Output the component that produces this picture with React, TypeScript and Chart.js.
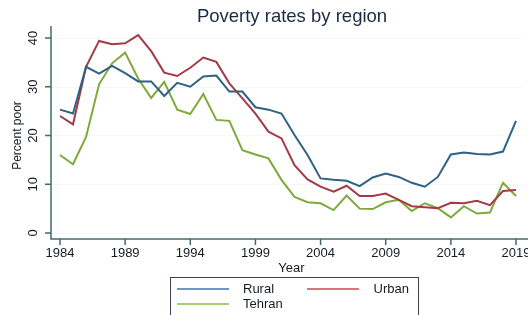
import React, { useEffect, useRef } from "react";
import { Chart, registerables } from "chart.js";

Chart.register(...registerables);

const years = [1984,1985,1986,1987,1988,1989,1990,1991,1992,1993,1994,1995,1996,1997,1998,1999,2000,2001,2002,2003,2004,2005,2006,2007,2008,2009,2010,2011,2012,2013,2014,2015,2016,2017,2018,2019];
const rural = [25.3,24.5,34.1,32.7,34.3,32.8,31.1,31.1,28.1,30.8,30.0,32.1,32.3,29.0,29.0,25.8,25.3,24.5,20.1,16.0,11.2,10.9,10.7,9.6,11.4,12.2,11.5,10.3,9.5,11.5,16.1,16.5,16.2,16.1,16.7,23.0];
const urban = [24.0,22.3,34.1,39.4,38.7,38.9,40.6,37.3,32.9,32.2,33.9,36.0,35.1,30.7,27.6,24.5,20.8,19.4,13.9,11.0,9.5,8.5,9.7,7.6,7.6,8.1,6.8,5.5,5.3,5.1,6.2,6.1,6.6,5.7,8.6,8.8];
const tehran = [16.0,14.1,19.7,30.5,34.8,37.0,31.7,27.7,31.0,25.3,24.4,28.5,23.2,23.0,17.0,16.1,15.3,10.9,7.4,6.3,6.1,4.7,7.7,5.0,4.9,6.3,6.8,4.5,6.1,5.1,3.2,5.5,4.0,4.2,10.3,7.6];
const seriesNames = ["Rural", "Urban", "Tehran"];
const seriesColors = ["#2f6182", "#a23a47", "#7fa93c"];
const legendColors = ["#3f72b0", "#cc4452", "#86bf44"];
const xTicks = [1984,1989,1994,1999,2004,2009,2014,2019];
const yTicks = [0,10,20,30,40];
const title = "Poverty rates by region";
const xTitle = "Year";
const yTitle = "Percent poor";

export default function App() {
  const ref = useRef<HTMLCanvasElement | null>(null);
  useEffect(() => {
    if (!ref.current) return;
    const axisColor = "#3e6c6c";
    const textColor = "#161b24";
    const font = "Liberation Sans, Arial, sans-serif";
    const decor = {
      id: "decor",
      beforeDatasetsDraw(chart: any) {
        const { ctx, chartArea: a, scales } = chart;
        ctx.save();
        ctx.strokeStyle = "rgba(238,241,244,0.6)";
        ctx.lineWidth = 1;
        for (const v of yTicks) {
          const y = Math.round(scales.y.getPixelForValue(v)) + 0.5;
          ctx.beginPath(); ctx.moveTo(a.left, y); ctx.lineTo(a.right, y); ctx.stroke();
        }
        ctx.restore();
      },
      afterDraw(chart: any) {
        const { ctx, chartArea: a, scales } = chart;
        ctx.save();
        ctx.strokeStyle = axisColor;
        ctx.lineWidth = 1.5;
        ctx.beginPath();
        ctx.moveTo(a.left, a.top - 4);
        ctx.lineTo(a.left, a.bottom);
        ctx.lineTo(a.right + 6, a.bottom);
        ctx.stroke();
        ctx.fillStyle = textColor;
        ctx.font = `13px ${font}`;
        for (const v of yTicks) {
          const y = scales.y.getPixelForValue(v);
          ctx.beginPath(); ctx.moveTo(a.left - 6, y); ctx.lineTo(a.left, y); ctx.stroke();
          ctx.save();
          ctx.translate(a.left - 11, y);
          ctx.rotate(-Math.PI / 2);
          ctx.textAlign = "center";
          ctx.textBaseline = "bottom";
          ctx.fillText(String(v), 0, 0);
          ctx.restore();
        }
        for (const v of xTicks) {
          const x = scales.x.getPixelForValue(v);
          ctx.beginPath(); ctx.moveTo(x, a.bottom); ctx.lineTo(x, a.bottom + 6); ctx.stroke();
          ctx.textAlign = "center";
          ctx.textBaseline = "top";
          ctx.fillText(String(v), x, a.bottom + 8);
        }
        ctx.font = `13px ${font}`;
        ctx.textAlign = "center";
        ctx.textBaseline = "middle";
        ctx.fillText(xTitle, (a.left + a.right) / 2 + 5, a.bottom + 29);
        ctx.save();
        ctx.translate(18, scales.y.getPixelForValue(20));
        ctx.rotate(-Math.PI / 2);
        ctx.font = `12px ${font}`;
        ctx.fillText(yTitle, 0, 0);
        ctx.restore();
        ctx.font = `18.5px ${font}`;
        ctx.fillStyle = "#1c2a42";
        ctx.fillText(title, 292, 17);
        ctx.strokeStyle = "#3a4450";
        ctx.lineWidth = 1;
        ctx.strokeRect(170.5, 277.5, 248, 45);
        ctx.font = `13px ${font}`;
        ctx.fillStyle = textColor;
        ctx.textBaseline = "middle";
        const items = [
          { x: 177, y: 289, tx: 243, align: "left" },
          { x: 307, y: 289, tx: 409, align: "right" },
          { x: 177, y: 304, tx: 243, align: "left" },
        ];
        items.forEach((it, i) => {
          ctx.strokeStyle = legendColors[i];
          ctx.lineWidth = 1.5;
          ctx.beginPath(); ctx.moveTo(it.x, it.y); ctx.lineTo(it.x + 52, it.y); ctx.stroke();
          ctx.textAlign = it.align;
          ctx.fillText(seriesNames[i], it.tx, it.y);
        });
        ctx.restore();
      },
    };
    const seriesData = [rural, urban, tehran];
    const chart = new Chart(ref.current, {
      type: "line",
      data: {
        datasets: seriesData.map((vals, i) => ({
          label: seriesNames[i],
          data: years.map((yr, j) => ({ x: yr, y: vals[j] })),
          borderColor: seriesColors[i],
          borderWidth: 2,
          pointRadius: 0,
          tension: 0,
          fill: false,
        })),
      },
      options: {
        animation: false,
        responsive: false,
        maintainAspectRatio: false,
        layout: { padding: { left: 51, right: 6, top: 30, bottom: 76 } },
        plugins: { legend: { display: false }, title: { display: false }, tooltip: { enabled: false } },
        scales: {
          x: { type: "linear", min: 1983.31, max: 2019.46, display: false },
          y: { type: "linear", min: -1.23, max: 41.64, display: false },
        },
      },
      plugins: [decor],
    });
    return () => chart.destroy();
  }, []);
  return (
    <div style={{ position: "fixed", left: 0, top: 0, width: 528, height: 315, background: "#fff" }}>
      <canvas ref={ref} width={528} height={315} style={{ width: 528, height: 315 }} />
    </div>
  );
}
